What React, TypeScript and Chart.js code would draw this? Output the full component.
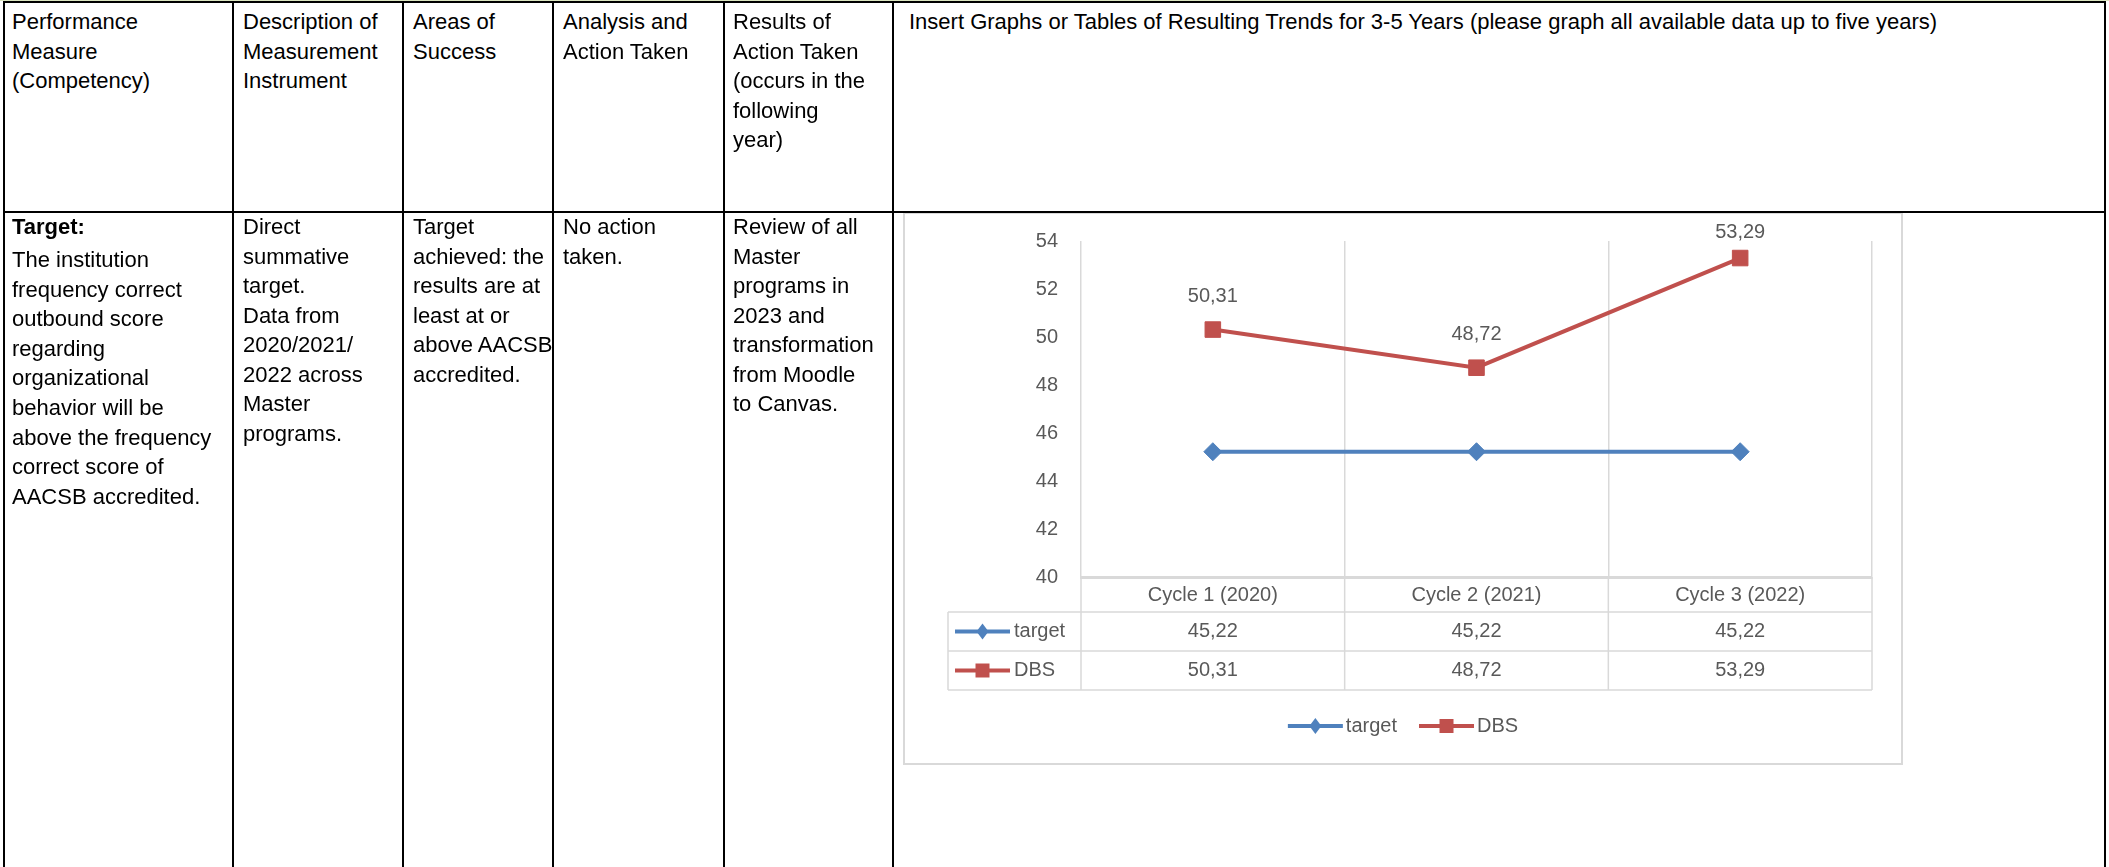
import React, { useEffect, useRef } from 'react';
import { Chart, registerables } from 'chart.js';

Chart.register(...registerables);

// ---- chart data ----
const categories = ['Cycle 1 (2020)', 'Cycle 2 (2021)', 'Cycle 3 (2022)'];
const targetValues = [45.22, 45.22, 45.22];
const dbsValues = [50.31, 48.72, 53.29];
const seriesNames = ['target', 'DBS'];
const yMin = 40;
const yMax = 54;
const yStep = 2;

// ---- surrounding table text ----
const headerCols = [
  ['Performance', 'Measure', '(Competency)'],
  ['Description of', 'Measurement', 'Instrument'],
  ['Areas of', 'Success'],
  ['Analysis and', 'Action Taken'],
  ['Results of', 'Action Taken', '(occurs in the', 'following', 'year)'],
  ['Insert Graphs or Tables of Resulting Trends for 3-5 Years (please graph all available data up to five years)'],
];
const bodyTitle = 'Target:';
const bodyCol1 = ['The institution', 'frequency correct', 'outbound score', 'regarding', 'organizational', 'behavior will be', 'above the frequency', 'correct score of', 'AACSB accredited.'];
const bodyCols = [
  ['Direct', 'summative', 'target.', 'Data from', '2020/2021/', '2022 across', 'Master', 'programs.'],
  ['Target', 'achieved: the', 'results are at', 'least at or', 'above AACSB', 'accredited.'],
  ['No action', 'taken.'],
  ['Review of all', 'Master', 'programs in', '2023 and', 'transformation', 'from Moodle', 'to Canvas.'],
];

const colTextX = [12, 243, 413, 563, 733, 909];
const colLinesX = [232, 402, 552, 723, 892];

const BLUE = '#4f81bd';
const RED = '#c0504d';
const GRID = '#d9d9d9';
const LABEL = '#595959';
const FONT = '"Liberation Sans", Arial, sans-serif';
const CHART_FONT_SIZE = 20;

const fmt = (v: number) => v.toFixed(2).replace('.', ',');

function drawKey(ctx: CanvasRenderingContext2D, x0: number, x1: number, y: number, color: string, style: string) {
  ctx.save();
  ctx.strokeStyle = color;
  ctx.fillStyle = color;
  ctx.lineWidth = 4;
  ctx.beginPath();
  ctx.moveTo(x0, y);
  ctx.lineTo(x1, y);
  ctx.stroke();
  const cx = (x0 + x1) / 2;
  ctx.beginPath();
  if (style === 'rectRot') {
    const r = 8;
    ctx.moveTo(cx, y - r);
    ctx.lineTo(cx + r * 0.75, y);
    ctx.lineTo(cx, y + r);
    ctx.lineTo(cx - r * 0.75, y);
    ctx.closePath();
  } else {
    const s = 7;
    ctx.rect(cx - s, y - s, 2 * s, 2 * s);
  }
  ctx.fill();
  ctx.restore();
}

const excelTablePlugin = {
  id: 'excelTable',
  afterDatasetsDraw(chart: any) {
    const ctx = chart.ctx as CanvasRenderingContext2D;
    const area = chart.chartArea;
    const ys = chart.scales.y;
    ctx.save();
    ctx.font = `${CHART_FONT_SIZE}px ${FONT}`;
    ctx.fillStyle = LABEL;
    // y tick labels
    ctx.textAlign = 'right';
    ctx.textBaseline = 'middle';
    ys.ticks.forEach((t: any) => {
      ctx.fillText(String(t.value), area.left - 23, ys.getPixelForValue(t.value));
    });
    // data labels for DBS series
    const meta = chart.getDatasetMeta(1);
    ctx.textAlign = 'center';
    meta.data.forEach((pt: any, i: number) => {
      const y = Math.max(pt.y - 33, area.top - 9);
      ctx.fillText(fmt(dbsValues[i]), pt.x, y);
    });
    ctx.restore();
  },
  afterDraw(chart: any) {
    const ctx = chart.ctx as CanvasRenderingContext2D;
    const area = chart.chartArea;
    const xs = chart.scales.x;
    const n = categories.length;
    const colW = (area.right - area.left) / n;
    const bounds: number[] = [];
    for (let i = 0; i <= n; i++) bounds.push(area.left + i * colW);
    const rows = [area.bottom, area.bottom + 35, area.bottom + 74, area.bottom + 113];
    const tableLeft = 45;

    ctx.save();
    ctx.strokeStyle = GRID;
    ctx.lineWidth = 1.5;
    const line = (x0: number, y0: number, x1: number, y1: number) => {
      ctx.beginPath();
      ctx.moveTo(x0, y0);
      ctx.lineTo(x1, y1);
      ctx.stroke();
    };
    bounds.forEach((b) => line(b, rows[0], b, rows[3]));
    line(tableLeft, rows[1], tableLeft, rows[3]);
    for (let r = 1; r <= 3; r++) line(tableLeft, rows[r], area.right, rows[r]);

    ctx.font = `${CHART_FONT_SIZE}px ${FONT}`;
    ctx.fillStyle = LABEL;
    ctx.textBaseline = 'middle';
    ctx.textAlign = 'center';
    categories.forEach((c, i) => ctx.fillText(c, xs.getPixelForValue(i), (rows[0] + rows[1]) / 2 + 1));

    const series = [
      { name: seriesNames[0], values: targetValues, color: BLUE, style: 'rectRot' },
      { name: seriesNames[1], values: dbsValues, color: RED, style: 'rect' },
    ];
    series.forEach((s, r) => {
      const yc = (rows[r + 1] + rows[r + 2]) / 2;
      ctx.textAlign = 'center';
      ctx.fillStyle = LABEL;
      s.values.forEach((v, i) => ctx.fillText(fmt(v), xs.getPixelForValue(i), yc));
      drawKey(ctx, tableLeft + 7, tableLeft + 62, yc, s.color, s.style);
      ctx.textAlign = 'left';
      ctx.fillStyle = LABEL;
      ctx.fillText(s.name, tableLeft + 66, yc);
    });

    // legend
    const keyW = 55;
    const widths = series.map((s) => ctx.measureText(s.name).width);
    const total = series.length * (keyW + 3) + widths.reduce((a, b) => a + b, 0) + 22 * (series.length - 1);
    let x = chart.width / 2 - total / 2;
    const ly = 514;
    series.forEach((s, i) => {
      drawKey(ctx, x, x + keyW, ly, s.color, s.style);
      ctx.textAlign = 'left';
      ctx.fillStyle = LABEL;
      ctx.fillText(s.name, x + keyW + 3, ly);
      x += keyW + 3 + widths[i] + 22;
    });
    ctx.restore();
  },
};

function ChartBox() {
  const ref = useRef<HTMLCanvasElement | null>(null);
  useEffect(() => {
    if (!ref.current) return;
    const chart = new Chart(ref.current, {
      type: 'line',
      data: {
        labels: categories,
        datasets: [
          {
            label: seriesNames[0],
            data: targetValues,
            borderColor: BLUE,
            backgroundColor: BLUE,
            borderWidth: 4,
            pointStyle: 'rectRot',
            pointRadius: 9,
            pointBackgroundColor: BLUE,
            pointBorderColor: BLUE,
            pointBorderWidth: 1,
          },
          {
            label: seriesNames[1],
            data: dbsValues,
            borderColor: RED,
            backgroundColor: RED,
            borderWidth: 4,
            pointStyle: 'rect',
            pointRadius: 11,
            pointBackgroundColor: RED,
            pointBorderColor: RED,
            pointBorderWidth: 1,
          },
        ],
      },
      options: {
        responsive: false,
        animation: false,
        devicePixelRatio: 1,
        layout: { padding: { left: 0, right: 31, top: 29, bottom: 0 } },
        plugins: { legend: { display: false }, tooltip: { enabled: false } },
        scales: {
          x: {
            type: 'category',
            offset: true,
            grid: { display: true, offset: true, color: GRID, lineWidth: 1.5, drawTicks: false },
            border: { display: true, color: GRID, width: 3 },
            ticks: { display: false },
            afterFit: (s: any) => { s.height = 188; },
          },
          y: {
            min: yMin,
            max: yMax,
            grid: { display: false },
            border: { display: false },
            ticks: { stepSize: yStep, display: false },
            afterFit: (s: any) => { s.width = 178; },
          },
        },
      },
      plugins: [excelTablePlugin],
    } as any);
    return () => chart.destroy();
  }, []);
  return (
    <canvas
      ref={ref}
      width={1000}
      height={553}
      style={{ position: 'absolute', left: 903, top: 212, width: 1000, height: 553 }}
    />
  );
}

const abs = (left: number, top: number, width: number, height: number, bg: string): React.CSSProperties => ({
  position: 'absolute', left, top, width, height, background: bg,
});

const textStyle = (left: number, top: number, bold = false): React.CSSProperties => ({
  position: 'absolute',
  left,
  top,
  fontFamily: FONT,
  fontSize: 22,
  lineHeight: '29.6px',
  whiteSpace: 'nowrap',
  color: '#000',
  fontWeight: bold ? 700 : 400,
});

export default function App() {
  return (
    <div style={{ position: 'fixed', left: 0, top: 0, width: 2109, height: 867, background: '#fff', overflow: 'hidden' }}>
      {/* chart frame */}
      <div style={{ position: 'absolute', left: 903, top: 212, width: 1000, height: 553, boxSizing: 'border-box', border: `2px solid ${GRID}`, background: '#fff' }} />
      <ChartBox />

      {/* table borders */}
      <div style={abs(0, 0, 2109, 1, '#dbe5c0')} />
      <div style={abs(3, 1, 2103, 2, '#000')} />
      <div style={abs(3, 1, 2, 866, '#000')} />
      <div style={abs(2104, 1, 2, 866, '#000')} />
      <div style={abs(3, 211, 2103, 2, '#000')} />
      {colLinesX.map((x) => (
        <div key={x} style={abs(x, 1, 2, 866, '#000')} />
      ))}

      {/* header text */}
      {headerCols.map((lines, c) =>
        lines.map((t, k) => (
          <div key={`h${c}-${k}`} style={textStyle(colTextX[c], 7 + k * 29.6)}>{t}</div>
        ))
      )}

      {/* body text */}
      <div style={textStyle(colTextX[0], 212, true)}>{bodyTitle}</div>
      {bodyCol1.map((t, k) => (
        <div key={`b0-${k}`} style={textStyle(colTextX[0], 245 + k * 29.6)}>{t}</div>
      ))}
      {bodyCols.map((lines, c) =>
        lines.map((t, k) => (
          <div key={`b${c + 1}-${k}`} style={textStyle(colTextX[c + 1], 212 + k * 29.5)}>{t}</div>
        ))
      )}
    </div>
  );
}
